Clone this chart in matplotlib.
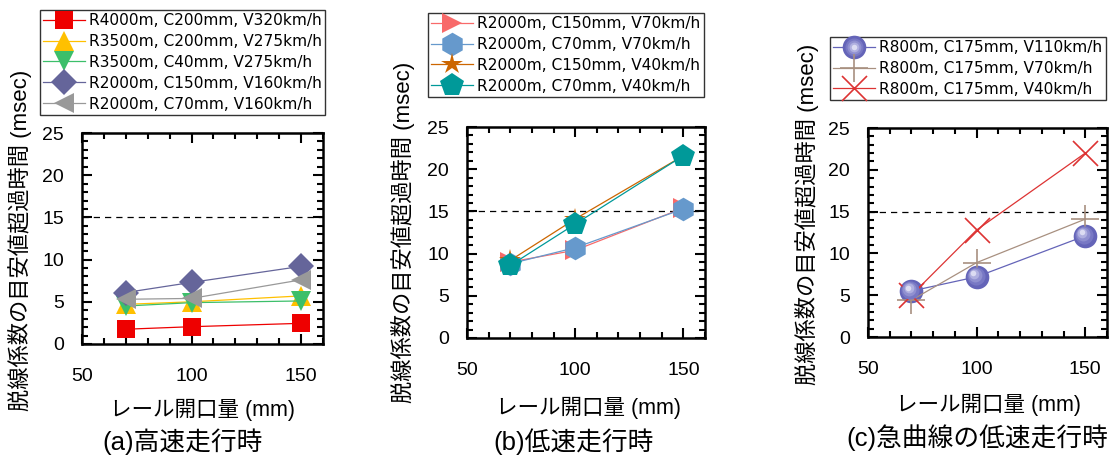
import matplotlib
matplotlib.use("Agg")
import matplotlib.pyplot as plt
from matplotlib.ticker import MultipleLocator
from matplotlib.legend_handler import HandlerTuple
from matplotlib.transforms import offset_copy

plt.rcParams['font.family'] = ['Liberation Sans', 'Noto Sans CJK JP']

W, H = 1120, 455

# rail opening (mm)
gap_mm = [70, 100, 150]

# (a) high-speed running
labels_a = ["R4000m, C200mm, V320km/h", "R3500m, C200mm, V275km/h",
            "R3500m, C40mm, V275km/h", "R2000m, C150mm, V160km/h",
            "R2000m, C70mm, V160km/h"]
values_a = [[1.75, 2.05, 2.45],
            [4.7, 5.0, 5.7],
            [4.5, 4.9, 5.1],
            [6.1, 7.3, 9.2],
            [5.3, 5.4, 7.6]]

# (b) low-speed running
labels_b = ["R2000m, C150mm, V70km/h", "R2000m, C70mm, V70km/h",
            "R2000m, C150mm, V40km/h", "R2000m, C70mm, V40km/h"]
values_b = [[9.0, 10.4, 15.4],
            [8.8, 10.7, 15.3],
            [9.2, 14.1, 21.6],
            [8.6, 13.5, 21.6]]

# (c) low-speed running on a sharp curve
labels_c = ["R800m, C175mm, V110km/h", "R800m, C175mm, V70km/h",
            "R800m, C175mm, V40km/h"]
values_c = [[5.5, 7.2, 12.1],
            [4.4, 8.9, 14.1],
            [5.0, 12.8, 22.0]]

threshold = 15

ylabel = "脱線係数の目安値超過時間 (msec)"
xlabel = "レール開口量 (mm)"
titles = ["(a)高速走行時", "(b)低速走行時", "(c)急曲線の低速走行時"]

styles_a = [dict(marker='s', color='#ee0000', ms=13),
            dict(marker='^', color='#ffc000', ms=14),
            dict(marker='v', color='#3cbf6a', ms=14),
            dict(marker='D', color='#65659a', ms=13),
            dict(marker='<', color='#999999', ms=15)]
styles_b = [dict(marker='>', color='#f86a6a', ms=14),
            dict(marker='h', color='#6699cc', ms=17),
            dict(marker='*', color='#cc6600', ms=16),
            dict(marker='p', color='#009999', ms=18)]
styles_c = [dict(marker='o', color='#6464b8', ms=17),
            dict(marker='+', color='#a89080', ms=20, mew=1.2),
            dict(marker='x', color='#dd3333', ms=18, mew=1.2)]


def fx(px):
    return px / W


def fy(py):
    return 1 - py / H


fig = plt.figure(figsize=(W / 100, H / 100), dpi=100)

# axes rectangles in pixels: left, top, right, bottom
rects = [(82, 133, 323, 344), (467, 127, 705, 338), (868, 128, 1107, 337)]
axes = []
for (l, t, r, b) in rects:
    ax = fig.add_axes([fx(l), fy(b), (r - l) / W, (b - t) / H])
    ax.set_xlim(50, 160)
    ax.set_ylim(0, 25)
    ax.xaxis.set_major_locator(MultipleLocator(50))
    ax.xaxis.set_minor_locator(MultipleLocator(10))
    ax.yaxis.set_major_locator(MultipleLocator(5))
    ax.yaxis.set_minor_locator(MultipleLocator(1))
    ax.tick_params(which='both', direction='in', top=True, right=True,
                   width=1.5, labelsize=14)
    ax.tick_params(which='major', length=7)
    ax.tick_params(which='minor', length=4)
    ax.tick_params(axis='x', pad=17)
    ax.tick_params(axis='y', pad=13)
    for s in ax.spines.values():
        s.set_linewidth(1.8)
    ax.axhline(threshold, color='black', lw=0.9, ls=(0, (5, 4)), zorder=1)
    axes.append(ax)


def draw(ax, values, styles):
    handles = []
    for vals, st in zip(values, styles):
        st = dict(st)
        ms = st.pop('ms')
        mew = st.pop('mew', 0)
        h, = ax.plot(gap_mm, vals, lw=0.9, ms=ms, mew=mew,
                     clip_on=False, **st)
        handles.append(h)
    return handles


ha = draw(axes[0], values_a, styles_a)
hb = draw(axes[1], values_b, styles_b)
hc = draw(axes[2], values_c, styles_c)

# shaded highlight on the sphere markers
shade = [('#7878c4', 13, -1.0, 1.0), ('#9090d0', 10, -2.0, 2.0),
         ('#b0b0e0', 7, -2.8, 2.8), ('#dcdcf2', 4, -3.4, 3.4)]
hl = [hc[0]]
for col, s, dx, dy in shade:
    tr = offset_copy(axes[2].transData, fig=fig, x=dx, y=dy, units='dots')
    axes[2].plot(gap_mm, values_c[0], ls='none', marker='o', ms=s,
                 color=col, mew=0, transform=tr, zorder=2.5)
    h, = axes[2].plot([], [], ls='none', marker='o', ms=s, color=col, mew=0)
    hl.append(h)
hc_leg = [tuple(hl)] + hc[1:]

leg_kw = dict(prop=dict(family='DejaVu Sans', size=11.1), frameon=True,
              fancybox=False, edgecolor='black',
              handlelength=2.7, handletextpad=0.3, labelspacing=0.38,
              borderpad=0.2, borderaxespad=0, loc='upper left')

lg = fig.legend(ha, labels_a, bbox_to_anchor=(fx(40), fy(10)), **leg_kw)
lg.get_frame().set_linewidth(1.0)
lg = fig.legend(hb, labels_b, bbox_to_anchor=(fx(428), fy(13)), **leg_kw)
lg.get_frame().set_linewidth(1.0)
lg = fig.legend(hc_leg, labels_c, bbox_to_anchor=(fx(830), fy(37)),
                handler_map={tuple: HandlerTuple(ndivide=1, pad=0)},
                **leg_kw)
lg.get_frame().set_linewidth(1.0)

ylabel_pos = [(20, 240), (403, 232), (807, 214)]
xlabel_pos = [(203, 410), (588, 408), (988, 405)]
title_pos = [(183, 442), (574, 442), (977, 438)]
for i in range(3):
    fig.text(fx(ylabel_pos[i][0]), fy(ylabel_pos[i][1]), ylabel,
             rotation=90, ha='center', va='center', fontsize=16)
    fig.text(fx(xlabel_pos[i][0]), fy(xlabel_pos[i][1]), xlabel,
             ha='center', va='center', fontsize=15.5)
    fig.text(fx(title_pos[i][0]), fy(title_pos[i][1]), titles[i],
             ha='center', va='center', fontsize=18.5)

fig.savefig("out.png", dpi=100)
